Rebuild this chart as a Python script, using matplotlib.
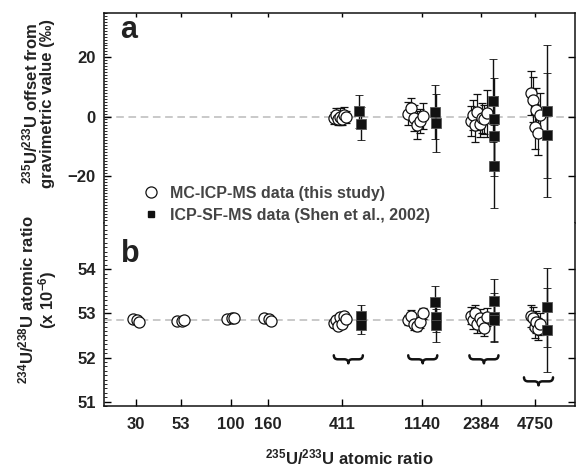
import matplotlib
matplotlib.use('Agg')
import matplotlib.pyplot as plt
from matplotlib.lines import Line2D
from matplotlib.path import Path
from matplotlib.patches import PathPatch
from matplotlib.ticker import FixedLocator, MultipleLocator, NullLocator

plt.rcParams['font.family'] = ['Liberation Sans', 'DejaVu Sans']
plt.rcParams['font.weight'] = 'bold'
plt.rcParams['mathtext.fontset'] = 'custom'
plt.rcParams['mathtext.rm'] = 'Liberation Sans:bold'
plt.rcParams['mathtext.it'] = 'Liberation Sans:bold'
plt.rcParams['mathtext.bf'] = 'Liberation Sans:bold'
plt.rcParams['mathtext.default'] = 'rm'

TXT = '#222222'
INK = '#111111'

# nominal 235U/233U ratios used as tick positions
ratio_ticks = [30, 53, 100, 160, 411, 1140, 2384, 4750]

# --- MC-ICP-MS (this study): plotted x positions (jittered around nominal ratio)
mc_x_30 = [28.9, 30.4, 31.2]
mc_x_53 = [50.5, 53.8, 55.4]
mc_x_100 = [95.4, 101.7, 104.7]
mc_x_160 = [153.4, 162.0, 167.7]
mc_x_411 = [372, 382, 392, 402, 412, 422, 434]
mc_x_1140 = [950, 990, 1030, 1070, 1110, 1150]
mc_x_2384 = [2100, 2160, 2220, 2290, 2360, 2430, 2500, 2600]
mc_x_4750 = [4550, 4650, 4750, 4850, 4950, 5050]

# panel a: offset from gravimetric value (permil)
mc_off_411 = [-0.5, 0.4, -1.0, 0.0, -0.8, 0.6, -0.2]
mc_off_err_411 = [2.0, 2.5, 1.8, 3.0, 2.0, 2.5, 2.0]
mc_off_1140 = [1.0, 2.8, -0.5, -2.8, -1.5, 0.2]
mc_off_err_1140 = [4.0, 3.5, 4.5, 4.8, 4.0, 4.5]
mc_off_2384 = [-1.5, 0.5, -3.0, 1.5, -2.5, -0.5, -1.0, 1.1]
mc_off_err_2384 = [5.0, 5.0, 5.5, 6.0, 4.5, 5.0, 5.0, 8.0]
mc_off_4750 = [7.9, 5.7, -3.4, 2.3, -5.6, 0.6]
mc_off_err_4750 = [7.5, 7.5, 7.5, 7.5, 7.5, 7.5]

# panel b: 234U/238U atomic ratio (x 1e-6)
mc_u234_30 = [52.88, 52.86, 52.80]
mc_u234_53 = [52.83, 52.83, 52.84]
mc_u234_100 = [52.88, 52.89, 52.89]
mc_u234_160 = [52.90, 52.87, 52.82]
mc_u234_411 = [52.78, 52.86, 52.72, 52.92, 52.76, 52.95, 52.88]
mc_u234_1140 = [52.85, 52.95, 52.75, 52.72, 52.80, 53.00]
mc_u234_2384 = [52.95, 52.85, 53.00, 52.75, 52.90, 52.80, 52.68, 52.92]
mc_u234_4750 = [52.95, 52.90, 52.70, 52.80, 52.65, 52.75]
mc_u234_err = [0.08, 0.12, 0.2, 0.25]  # per group 411, 1140, 2384, 4750

# --- ICP-SF-MS (Shen et al., 2002)
sf_x_a_411 = [510, 525]
sf_off_411 = [1.7, -2.4]
sf_off_err_411 = [5.5, 5.5]
sf_x_a_1140 = [1340, 1360]
sf_off_1140 = [1.5, -2.1]
sf_off_err_1140 = [9.0, 9.8]
sf_x_a_2384 = [2810, 2815, 2820, 2825]
sf_off_2384 = [5.3, -0.9, -6.5, -16.8]
sf_off_err_2384 = [14.0, 14.0, 13.5, 14.0]
sf_x_a_4750 = [5540, 5560]
sf_off_4750 = [1.7, -6.3]
sf_off_err_4750 = [22.5, 21.0]

sf_x_b_411 = [520, 525]
sf_u234_411 = [52.93, 52.73]
sf_u234_err_411 = [0.25, 0.20]
sf_x_b_1140 = [1345, 1350, 1355]
sf_u234_1140 = [53.25, 52.92, 52.73]
sf_u234_err_1140 = [0.38, 0.35, 0.38]
sf_x_b_2384 = [2815, 2820, 2825]
sf_u234_2384 = [53.28, 52.92, 52.85]
sf_u234_err_2384 = [0.50, 0.55, 0.50]
sf_x_b_4750 = [5540, 5550]
sf_u234_4750 = [53.14, 52.63]
sf_u234_err_4750 = [0.90, 0.95]

gravimetric_u234 = 52.857

# brace annotations under the high-ratio groups (centre x, top y)
brace_x = [445, 1145, 2490, 4980]
brace_y = [52.05, 52.05, 52.05, 51.55]

fig = plt.figure(figsize=(5.76, 4.71), dpi=100)
ax_a = fig.add_axes([0.1806, 0.5265, 0.8174, 0.446])
ax_b = fig.add_axes([0.1806, 0.138, 0.8174, 0.3885])

mc_style = dict(fmt='o', ms=8, mfc='white', mec=INK, mew=0.9, ecolor=INK,
                elinewidth=0.9, capsize=3, capthick=0.9, zorder=3)
sf_style = dict(fmt='s', ms=6.5, mfc=INK, mec='#555555', mew=0.6, ecolor=INK,
                elinewidth=1.0, capsize=3, capthick=0.9, zorder=4)

# panel a
ax_a.axhline(0, color='#bbbbbb', ls=(0, (5, 3)), lw=1.1, zorder=1)
for xs, ys, es in [(mc_x_411, mc_off_411, mc_off_err_411),
                   (mc_x_1140, mc_off_1140, mc_off_err_1140),
                   (mc_x_2384, mc_off_2384, mc_off_err_2384),
                   (mc_x_4750, mc_off_4750, mc_off_err_4750)]:
    ax_a.errorbar(xs, ys, yerr=es, **mc_style)
for xs, ys, es in [(sf_x_a_411, sf_off_411, sf_off_err_411),
                   (sf_x_a_1140, sf_off_1140, sf_off_err_1140),
                   (sf_x_a_2384, sf_off_2384, sf_off_err_2384),
                   (sf_x_a_4750, sf_off_4750, sf_off_err_4750)]:
    ax_a.errorbar(xs, ys, yerr=es, **sf_style)

# panel b
ax_b.axhline(gravimetric_u234, color='#bbbbbb', ls=(0, (5, 3)), lw=1.1, zorder=1)
for xs, ys in [(mc_x_30, mc_u234_30), (mc_x_53, mc_u234_53),
               (mc_x_100, mc_u234_100), (mc_x_160, mc_u234_160)]:
    ax_b.errorbar(xs, ys, **mc_style)
for (xs, ys), e in zip([(mc_x_411, mc_u234_411), (mc_x_1140, mc_u234_1140),
                        (mc_x_2384, mc_u234_2384), (mc_x_4750, mc_u234_4750)],
                       mc_u234_err):
    ax_b.errorbar(xs, ys, yerr=e, **mc_style)
for xs, ys, es in [(sf_x_b_411, sf_u234_411, sf_u234_err_411),
                   (sf_x_b_1140, sf_u234_1140, sf_u234_err_1140),
                   (sf_x_b_2384, sf_u234_2384, sf_u234_err_2384),
                   (sf_x_b_4750, sf_u234_4750, sf_u234_err_4750)]:
    ax_b.errorbar(xs, ys, yerr=es, **sf_style)

# axes cosmetics
for ax in (ax_a, ax_b):
    ax.set_xscale('log')
    ax.set_xlim(20, 7900)
    ax.xaxis.set_major_locator(FixedLocator(ratio_ticks))
    ax.xaxis.set_minor_locator(NullLocator())
    for s in ax.spines.values():
        s.set_linewidth(1.1)
        s.set_color(INK)
    ax.tick_params(axis='y', which='major', direction='in', left=True, right=True,
                   length=5, width=1, labelsize=12, labelcolor=TXT, pad=6)
    ax.tick_params(axis='y', which='minor', direction='in', left=True, right=False,
                   length=2, width=0.6)

ax_a.spines['bottom'].set_visible(False)
ax_b.spines['top'].set_visible(False)
ax_a.tick_params(axis='x', which='major', direction='in', top=True, bottom=False,
                 labelbottom=False, labeltop=False, length=3, width=1)
ax_b.tick_params(axis='x', which='major', direction='in', top=False, bottom=True,
                 length=5, width=1, labelsize=12, labelcolor=TXT, pad=8)
ax_b.set_xticklabels([str(t) for t in ratio_ticks])

ax_a.set_ylim(-36, 35)
ax_a.set_yticks([-20, 0, 20])
ax_a.yaxis.set_minor_locator(MultipleLocator(1))
ax_b.set_ylim(50.9, 55.05)
ax_b.set_yticks([51, 52, 53, 54])
ax_b.yaxis.set_minor_locator(MultipleLocator(0.1))

# curly braces (drawn in pixel space around each anchor)
bw, bh = 29.0, 8.0
for bx, by in zip(brace_x, brace_y):
    cx, ty = ax_b.transData.transform((bx, by))
    h2 = bh / 2
    verts = [(cx - bw / 2, ty),
             (cx - bw / 2, ty - h2), (cx - bw / 2 + h2, ty - h2),
             (cx - h2, ty - h2),
             (cx, ty - h2), (cx, ty - bh),
             (cx, ty - h2), (cx + h2, ty - h2),
             (cx + bw / 2 - h2, ty - h2),
             (cx + bw / 2, ty - h2), (cx + bw / 2, ty)]
    codes = [Path.MOVETO, Path.CURVE3, Path.CURVE3, Path.LINETO,
             Path.CURVE3, Path.CURVE3, Path.CURVE3, Path.CURVE3,
             Path.LINETO, Path.CURVE3, Path.CURVE3]
    fig.add_artist(PathPatch(Path(verts, codes), transform=None, fill=False,
                             lw=1.8, ec=INK, capstyle='round', joinstyle='round'))

ax_a.text(0.035, 0.92, 'a', transform=ax_a.transAxes, fontsize=22, color=TXT,
          ha='left', va='center')
ax_b.text(0.035, 0.83, 'b', transform=ax_b.transAxes, fontsize=22, color=TXT,
          ha='left', va='center')

handles = [Line2D([], [], ls='none', marker='o', ms=8, mfc='white', mec=INK, mew=0.9),
           Line2D([], [], ls='none', marker='s', ms=4.5, mfc=INK, mec=INK)]
labels = ['MC-ICP-MS data (this study)', 'ICP-SF-MS data (Shen et al., 2002)']
ax_a.legend(handles, labels, loc='center left', bbox_to_anchor=(0.087, 0.089),
            frameon=False, handlelength=0.8, handletextpad=0.75, labelspacing=0.45,
            borderpad=0, borderaxespad=0, fontsize=11.5, labelcolor='#444444')

fig.text(38 / 576, 1 - 103 / 471,
         '$^{235}$U/$^{233}$U offset from\ngravimetric value (\u2030)',
         rotation=90, ha='center', va='center', ma='center', fontsize=12,
         color=TXT, linespacing=1.0)
fig.text(38 / 576, 1 - 300 / 471,
         '$^{234}$U/$^{238}$U atomic ratio\n(x 10$^{-6}$)',
         rotation=90, ha='center', va='center', ma='center', fontsize=12,
         color=TXT, linespacing=1.0)
fig.text(0.606, 1 - 457 / 471, '$^{235}$U/$^{233}$U atomic ratio',
         ha='center', va='center', fontsize=12, color=TXT)

fig.savefig('out.png', dpi=100)
